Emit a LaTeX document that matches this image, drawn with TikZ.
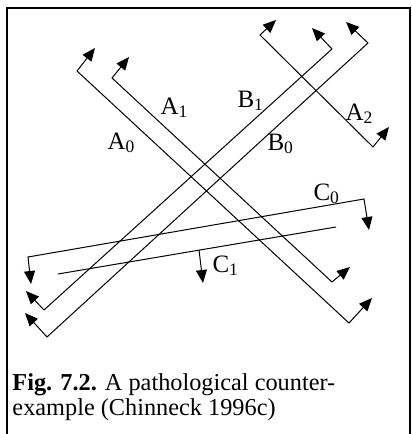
\documentclass[tikz,border=0pt]{standalone}
\usepackage{fontspec}
\setmainfont{Liberation Serif}
\usetikzlibrary{arrows.meta}
\definecolor{ink}{HTML}{000000}

\begin{document}
\begin{tikzpicture}[
  x=1pt, y=-1pt,
  cut/.style={ink, line width=1pt, line join=miter,
              {Triangle[length=13pt, width=11pt]}-{Triangle[length=13pt, width=11pt]}},
  oneway/.style={ink, line width=1pt, -{Triangle[length=13pt, width=11pt]}},
  plain/.style={ink, line width=1pt},
  lbl/.style={font=\fontsize{10pt}{10pt}\selectfont, inner sep=0pt, anchor=base west,
              scale=2.5, transform shape},
  captxt/.style={font=\fontsize{10pt}{9.88pt}\selectfont, inner sep=0pt, anchor=base west,
                 align=left, scale=2.43, transform shape},
]
\useasboundingbox (0,0) rectangle (412,434);

% ---- frame, open at the bottom ----
\draw[ink, line width=2.5pt] (7,434) -- (7,8) -- (410,8) -- (410,434);

% ---- A constraints ----
\draw[cut] (95,48) -- (77,71) -- (349,323) -- (372,298);
\draw[cut] (129,57) -- (112,78) -- (332,282) -- (350,267);
\draw[cut] (276,20) -- (260,35) -- (373,147) -- (389,127);

% ---- B constraints ----
\draw[cut] (346,22) -- (368,43) -- (47,337) -- (25,313);
\draw[cut] (312,28) -- (332,49) -- (44,310) -- (26,291);

% ---- C constraints ----
\draw[cut] (31,284) -- (28,257) -- (364,199) -- (369,230);
\draw[plain] (58,274) -- (336,227);
\coordinate (c1foot) at (199,250);
\coordinate (c1tip) at (203,283);
\draw[oneway] (c1foot) -- (c1tip);

% ---- labels ----
\foreach \nm/\px/\py/\txt in {a0/107/149/A\textsubscript{0}, a1/160/114/A\textsubscript{1},
    a2/345/120/A\textsubscript{2}, b0/267/150/B\textsubscript{0}, b1/237/107/B\textsubscript{1},
    c0/313/200/C\textsubscript{0}, c1/212/272/C\textsubscript{1}}{
  \coordinate (\nm pos) at (\px,\py);
  \node[lbl] (\nm) at (\nm pos) {\txt};
}

% ---- caption ----
\coordinate (cappos) at (12,415);
\node[captxt] (cap) at (cappos)
  {\textbf{Fig. 7.2.} A pathological counter-\\example (Chinneck 1996c)};

\end{tikzpicture}
\end{document}
